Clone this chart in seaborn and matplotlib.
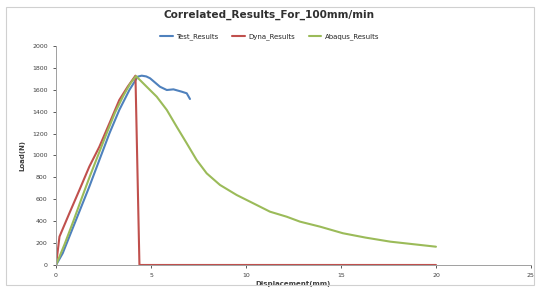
import numpy as np
import pandas as pd
import seaborn as sns
import matplotlib.pyplot as plt

### data
test_x = [0, 0.35, 1.05, 1.75, 2.28, 2.81, 3.33, 3.86, 4.3, 4.51, 4.75, 4.95, 5.2, 5.47, 5.83, 6.18, 6.61, 6.88, 7.05]
test_y = [0, 107, 411, 715, 959, 1202, 1416, 1598, 1720, 1729, 1722, 1705, 1668, 1628, 1598, 1604, 1583, 1568, 1516]

dyna_x = [0, 0.18, 0.70, 1.23, 1.75, 2.28, 2.81, 3.33, 3.77, 4.18, 4.39, 20]
dyna_y = [0, 259, 472, 685, 898, 1080, 1294, 1507, 1628, 1729, 0, 0]

abaqus_x = [0, 0.45, 0.91, 1.35, 1.79, 2.23, 2.67, 3.1, 3.54, 3.9, 4.21, 4.77, 5.3, 5.83, 6.35, 6.88, 7.4, 7.93,
            8.63, 9.51, 10.56, 11.26, 12.14, 12.84, 13.9, 15.1, 16.3, 17.6, 18.8, 20.0]
abaqus_y = [0, 190, 400, 610, 815, 1010, 1205, 1390, 1545, 1655, 1725, 1628, 1537, 1416, 1263, 1111, 959, 837,
            731, 639, 548, 487, 441, 396, 350, 290, 250, 213, 190, 167]

labels = ["Test_Results", "Dyna_Results", "Abaqus_Results"]
colors = ["#4F81BD", "#C0504D", "#9BBB59"]

sns.set_style("white")

fig = plt.figure(figsize=(5.39, 2.92), dpi=100)
ax = fig.add_axes([0.104, 0.0925, 0.881, 0.75])

for (x, y), lab, col in zip([(test_x, test_y), (dyna_x, dyna_y), (abaqus_x, abaqus_y)], labels, colors):
    df = pd.DataFrame({"x": x, "y": y})
    sns.lineplot(data=df, x="x", y="y", sort=False, color=col, linewidth=1.5, label=lab, ax=ax)

ax.set_xlim(0, 25)
ax.set_ylim(0, 2000)
ax.set_xticks(np.arange(0, 26, 5))
ax.set_yticks(np.arange(0, 2001, 200))
ax.tick_params(labelsize=4.5, colors="#404040", length=2.5, width=0.6, direction="out", bottom=True, left=True)
for s in ["top", "right"]:
    ax.spines[s].set_visible(False)
for s in ["left", "bottom"]:
    ax.spines[s].set_color("#a0a0a0")
    ax.spines[s].set_linewidth(0.7)

ax.set_xlabel("Displacement(mm)", fontsize=5, fontweight="bold", color="#404040", labelpad=2)
ax.set_ylabel("Load(N)", fontsize=5, fontweight="bold", color="#404040", labelpad=5)

fig.suptitle("Correlated_Results_For_100mm/min", fontsize=7.6, fontweight="bold", color="#303030", y=0.965)
ax.legend(loc="lower center", bbox_to_anchor=(0.45, 1.0), ncol=3, frameon=False, fontsize=5,
          handlelength=1.8, handletextpad=0.5, columnspacing=2.0, borderaxespad=0.5)

# light frame around the chart area
fig.patches.append(plt.Rectangle((0.012, 0.025), 0.978, 0.95, transform=fig.transFigure,
                                 fill=False, edgecolor="#d0d0d0", linewidth=0.8))

fig.savefig("out.png", dpi=100)
